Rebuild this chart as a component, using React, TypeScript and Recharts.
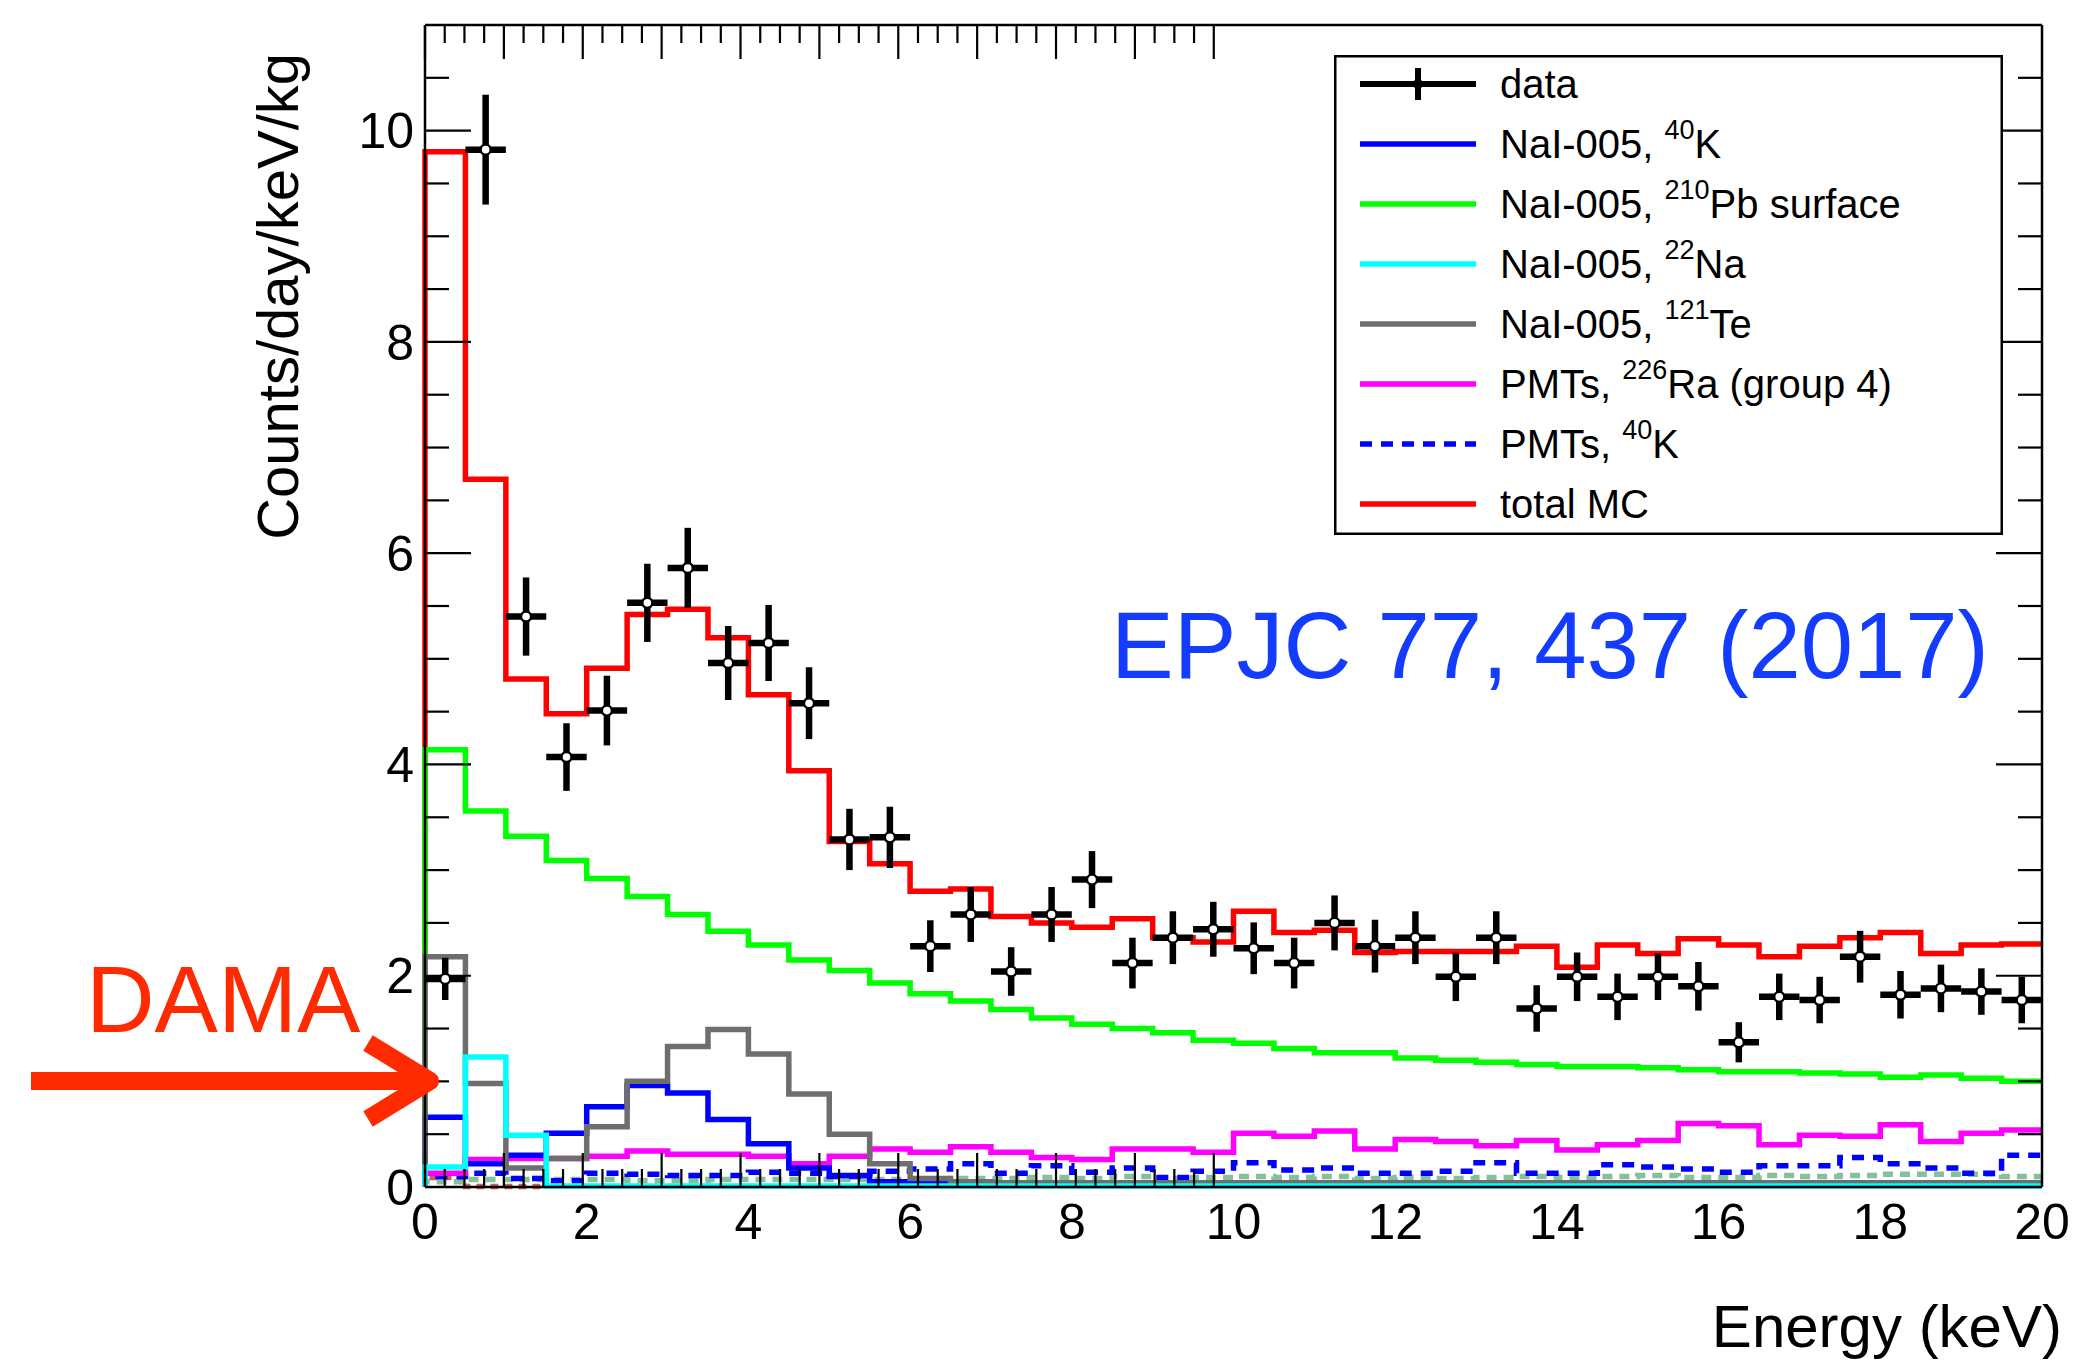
import React from "react";
import { ComposedChart, Line, Scatter, XAxis, YAxis, ErrorBar, Legend, Label } from "recharts";

const FONT = '"Liberation Sans", Arial, Helvetica, sans-serif';

// ---------- data ----------
// lower edges of the 0.5 keV bins
const BIN_EDGES = [0, 0.5, 1, 1.5, 2, 2.5, 3, 3.5, 4, 4.5, 5, 5.5, 6, 6.5, 7, 7.5, 8, 8.5, 9, 9.5,
  10, 10.5, 11, 11.5, 12, 12.5, 13, 13.5, 14, 14.5, 15, 15.5, 16, 16.5, 17, 17.5, 18, 18.5, 19, 19.5];
const X_MAX = 20;

const TOTAL_MC = [9.8, 6.7, 4.81, 4.48, 4.91, 5.42, 5.47, 5.2, 4.66, 3.94, 3.27, 3.06, 2.8, 2.82, 2.56, 2.5, 2.46, 2.54, 2.36, 2.32,
  2.61, 2.41, 2.43, 2.22, 2.23, 2.23, 2.23, 2.28, 2.08, 2.29, 2.21, 2.35, 2.29, 2.18, 2.28, 2.36, 2.41, 2.21, 2.29, 2.3];
const NAI_PB210_SURFACE = [4.14, 3.56, 3.32, 3.09, 2.92, 2.75, 2.58, 2.42, 2.29, 2.15, 2.05, 1.93, 1.83, 1.76, 1.68, 1.6, 1.54, 1.5, 1.46, 1.39,
  1.36, 1.31, 1.27, 1.27, 1.22, 1.2, 1.18, 1.16, 1.14, 1.14, 1.13, 1.11, 1.09, 1.09, 1.08, 1.07, 1.04, 1.06, 1.03, 1.0];
const NAI_NA22 = [0.19, 1.23, 0.49, 0.01, 0.01, 0.01, 0.01, 0.01, 0.01, 0.01, 0.01, 0.01, 0.01, 0.01, 0.01, 0.01, 0.01, 0.01, 0.01, 0.01,
  0.01, 0.01, 0.01, 0.01, 0.01, 0.01, 0.01, 0.01, 0.01, 0.01, 0.01, 0.01, 0.01, 0.01, 0.01, 0.01, 0.01, 0.01, 0.01, 0.01];
const NAI_TE121 = [2.18, 0.98, 0.18, 0.27, 0.57, 1.0, 1.33, 1.49, 1.26, 0.88, 0.5, 0.22, 0.08, 0.05, 0.04, 0.04, 0.04, 0.04, 0.04, 0.04,
  0.04, 0.04, 0.04, 0.04, 0.04, 0.04, 0.04, 0.04, 0.04, 0.04, 0.04, 0.04, 0.04, 0.04, 0.04, 0.04, 0.04, 0.04, 0.04, 0.04];
const NAI_K40 = [0.66, 0.22, 0.3, 0.51, 0.76, 0.96, 0.89, 0.64, 0.41, 0.18, 0.11, 0.05, 0.03, 0.03, 0.03, 0.03, 0.03, 0.03, 0.03, 0.03,
  0.03, 0.03, 0.03, 0.03, 0.03, 0.03, 0.03, 0.03, 0.03, 0.03, 0.03, 0.03, 0.03, 0.03, 0.03, 0.03, 0.03, 0.03, 0.03, 0.03];
const PMT_RA226 = [0.13, 0.26, 0.27, 0.27, 0.29, 0.34, 0.31, 0.31, 0.29, 0.22, 0.29, 0.36, 0.33, 0.38, 0.33, 0.28, 0.26, 0.36, 0.36, 0.33,
  0.51, 0.48, 0.53, 0.36, 0.45, 0.43, 0.39, 0.44, 0.35, 0.4, 0.44, 0.6, 0.58, 0.4, 0.49, 0.48, 0.59, 0.43, 0.51, 0.54];
const PMT_K40 = [0.1, 0.13, 0.08, 0.06, 0.13, 0.12, 0.11, 0.11, 0.14, 0.13, 0.1, 0.15, 0.17, 0.22, 0.13, 0.2, 0.14, 0.18, 0.09, 0.15,
  0.23, 0.16, 0.18, 0.13, 0.13, 0.15, 0.23, 0.13, 0.13, 0.21, 0.19, 0.17, 0.14, 0.2, 0.2, 0.28, 0.22, 0.18, 0.13, 0.3];
// components drawn in the figure but not listed in its legend
const UNLISTED_GREEN = [0.05, 0.07, 0.07, 0.07, 0.07, 0.06, 0.06, 0.07, 0.07, 0.07, 0.07, 0.07, 0.07, 0.08, 0.08, 0.09, 0.08, 0.1, 0.08, 0.09,
  0.1, 0.09, 0.1, 0.08, 0.09, 0.08, 0.09, 0.1, 0.09, 0.1, 0.11, 0.09, 0.09, 0.11, 0.1, 0.11, 0.12, 0.12, 0.12, 0.1];
const UNLISTED_RED: (number | null)[] = [0.09, 0.004, 0.004, 0, null, null, null, null, null, null, null, null, null, null, null, null, null, null, null, null,
  null, null, null, null, null, null, null, null, null, null, null, null, null, null, null, null, null, null, null, null];

const DATA_X = [0.25, 0.75, 1.25, 1.75, 2.25, 2.75, 3.25, 3.75, 4.25, 4.75, 5.25, 5.75, 6.25, 6.75, 7.25, 7.75, 8.25, 8.75, 9.25, 9.75,
  10.25, 10.75, 11.25, 11.75, 12.25, 12.75, 13.25, 13.75, 14.25, 14.75, 15.25, 15.75, 16.25, 16.75, 17.25, 17.75, 18.25, 18.75, 19.25, 19.75];
const DATA_Y = [1.97, 9.82, 5.4, 4.07, 4.51, 5.53, 5.86, 4.96, 5.15, 4.58, 3.29, 3.31, 2.28, 2.58, 2.04, 2.58, 2.91, 2.12, 2.36, 2.44,
  2.26, 2.12, 2.5, 2.28, 2.36, 1.99, 2.36, 1.69, 1.99, 1.8, 1.99, 1.9, 1.37, 1.8, 1.77, 2.18, 1.82, 1.88, 1.85, 1.77];
const DATA_ERR = [0.2, 0.52, 0.37, 0.32, 0.33, 0.37, 0.38, 0.35, 0.36, 0.34, 0.29, 0.29, 0.245, 0.26, 0.23, 0.26, 0.27, 0.24, 0.25, 0.26,
  0.245, 0.24, 0.26, 0.25, 0.25, 0.23, 0.25, 0.22, 0.23, 0.22, 0.22, 0.23, 0.19, 0.22, 0.22, 0.245, 0.225, 0.225, 0.22, 0.22];
const HALF_BIN = 0.25;

const X_TICKS = [0, 2, 4, 6, 8, 10, 12, 14, 16, 18, 20];
const X_MINOR = [0.5, 1, 1.5, 2.5, 3, 3.5, 4.5, 5, 5.5, 6.5, 7, 7.5, 8.5, 9, 9.5, 10.5, 11, 11.5, 12.5, 13, 13.5,
  14.5, 15, 15.5, 16.5, 17, 17.5, 18.5, 19, 19.5];
const Y_TICKS = [0, 2, 4, 6, 8, 10];
const Y_MINOR = [0.5, 1, 1.5, 2.5, 3, 3.5, 4.5, 5, 5.5, 6.5, 7, 7.5, 8.5, 9, 9.5, 10.5];
const X_DOMAIN: [number, number] = [0, 20];
const Y_DOMAIN: [number, number] = [0, 11];

// ---------- series configuration ----------
type Series = { key: string; values: (number | null)[]; color: string; dash?: string };
const SERIES: Series[] = [
  { key: "totalMC", values: TOTAL_MC, color: "#ff0000" },
  { key: "pb210", values: NAI_PB210_SURFACE, color: "#00ff00" },
  { key: "unlistedGreen", values: UNLISTED_GREEN, color: "#84c09c", dash: "10 7" },
  { key: "unlistedRed", values: UNLISTED_RED, color: "#cd5c5c", dash: "8 6" },
  { key: "pmtK40", values: PMT_K40, color: "#0000ff", dash: "12 9" },
  { key: "ra226", values: PMT_RA226, color: "#ff00ff" },
  { key: "k40", values: NAI_K40, color: "#0000ff" },
  { key: "te121", values: NAI_TE121, color: "#6e6e6e" },
  { key: "na22", values: NAI_NA22, color: "#00ffff" },
];

const lastIdx = BIN_EDGES.length - 1;
const histRows: Record<string, number | null>[] = [
  { x: BIN_EDGES[0], ...Object.fromEntries(SERIES.map((s) => [s.key, s.values[0] == null ? null : 0])) },
  ...BIN_EDGES.map((edge, i) => ({ x: edge, ...Object.fromEntries(SERIES.map((s) => [s.key, s.values[i]])) })),
  { x: X_MAX, ...Object.fromEntries(SERIES.map((s) => [s.key, s.values[lastIdx]])) },
];

const points = DATA_X.map((x, i) => ({ x, y: DATA_Y[i], ex: HALF_BIN, ey: DATA_ERR[i] }));

// ---------- legend ----------
type LegendItem = { kind: "data" | "line"; pre: string; sup?: string; post?: string; color?: string; dash?: string };
const LEGEND_ITEMS: LegendItem[] = [
  { kind: "data", pre: "data" },
  { kind: "line", pre: "NaI-005, ", sup: "40", post: "K", color: "#0000ff" },
  { kind: "line", pre: "NaI-005, ", sup: "210", post: "Pb surface", color: "#00ff00" },
  { kind: "line", pre: "NaI-005, ", sup: "22", post: "Na", color: "#00ffff" },
  { kind: "line", pre: "NaI-005, ", sup: "121", post: "Te", color: "#6e6e6e" },
  { kind: "line", pre: "PMTs, ", sup: "226", post: "Ra (group 4)", color: "#ff00ff" },
  { kind: "line", pre: "PMTs, ", sup: "40", post: "K", color: "#0000ff", dash: "12 9" },
  { kind: "line", pre: "total MC", color: "#ff0000" },
];

const LEG_W = 669;
const LEG_H = 480;
const LINE_W = 5.5;

function LegendBox() {
  return (
    <svg width={LEG_W} height={LEG_H} style={{ display: "block" }}>
      <rect x={1.25} y={1.25} width={LEG_W - 2.5} height={LEG_H - 2.5} fill="#fff" stroke="#000" strokeWidth={2.5} />
      {LEGEND_ITEMS.map((it, i) => {
        const cy = 29 + 60 * i;
        return (
          <g key={i}>
            {it.kind === "data" ? (
              <g>
                <line x1={26} x2={142} y1={cy} y2={cy} stroke="#000" strokeWidth={6} />
                <line x1={84} x2={84} y1={cy - 16} y2={cy + 16} stroke="#000" strokeWidth={6} />
                <circle cx={84} cy={cy} r={5} fill="#000" />
              </g>
            ) : (
              <line x1={26} x2={142} y1={cy} y2={cy} stroke={it.color} strokeWidth={LINE_W} strokeDasharray={it.dash} />
            )}
            <text x={166} y={cy + 14} fontSize={40} fontFamily={FONT} fill="#000">
              <tspan>{it.pre}</tspan>
              {it.sup ? (
                <tspan fontSize={27} dy={-19}>{it.sup}</tspan>
              ) : null}
              {it.post ? <tspan dy={it.sup ? 19 : 0}>{it.post}</tspan> : null}
            </text>
          </g>
        );
      })}
    </svg>
  );
}

// ---------- marks ----------
const OpenCircle = (p: any) => (
  <circle cx={p.cx} cy={p.cy} r={5} fill="#fff" stroke="#000" strokeWidth={2.4} />
);

const tickFont = { fontSize: 50, fill: "#000", fontFamily: FONT };
const frame = { stroke: "#000", strokeWidth: 2.5 };
const tickStroke = { stroke: "#000", strokeWidth: 2.2 };
const noLabel = () => "";

const YTitle = (props: any) => {
  const vb = props.viewBox || { x: 295, y: 25 };
  const x = vb.x + 3;
  const y = vb.y + 28;
  return (
    <text x={x} y={y} transform={`rotate(-90, ${x}, ${y})`} textAnchor="end" fontSize={58} fontFamily={FONT} fill="#000">
      Counts/day/keV/kg
    </text>
  );
};

const XTitle = (props: any) => {
  const vb = props.viewBox || { x: 425, y: 1187, width: 1617 };
  return (
    <text x={vb.x + vb.width + 20} y={vb.y + 160} textAnchor="end" fontSize={60} fontFamily={FONT} fill="#000">
      Energy (keV)
    </text>
  );
};

export default function App() {
  return (
    <div style={{ position: "absolute", left: 0, top: 0, width: 2075, height: 1361, background: "#fff" }}>
      <ComposedChart
        width={2075}
        height={1361}
        data={histRows}
        margin={{ top: 25, right: 33, bottom: 104, left: 295 }}
      >
        <XAxis
          xAxisId="x"
          dataKey="x"
          type="number"
          domain={X_DOMAIN}
          ticks={X_TICKS}
          interval={0}
          tickLine={false}
          tickSize={0}
          tickMargin={16}
          height={70}
          axisLine={frame}
          tick={tickFont}
        >
          <Label content={XTitle} />
        </XAxis>
        <XAxis xAxisId="xMajB" type="number" domain={X_DOMAIN} allowDataOverflow ticks={X_TICKS} interval={0}
          orientation="bottom" mirror height={1} tickFormatter={noLabel} tickSize={34} tickLine={tickStroke} axisLine={false} />
        <XAxis xAxisId="xMinB" type="number" domain={X_DOMAIN} allowDataOverflow ticks={X_MINOR} interval={0}
          orientation="bottom" mirror height={1} tickFormatter={noLabel} tickSize={17} tickLine={tickStroke} axisLine={false} />
        <XAxis xAxisId="xMajT" type="number" domain={X_DOMAIN} allowDataOverflow ticks={X_TICKS} interval={0}
          orientation="top" mirror height={1} tickFormatter={noLabel} tickSize={34} tickLine={tickStroke} axisLine={frame} />
        <XAxis xAxisId="xMinT" type="number" domain={X_DOMAIN} allowDataOverflow ticks={X_MINOR} interval={0}
          orientation="top" mirror height={1} tickFormatter={noLabel} tickSize={17} tickLine={tickStroke} axisLine={false} />

        <YAxis
          yAxisId="y"
          type="number"
          domain={Y_DOMAIN}
          ticks={Y_TICKS}
          interval={0}
          tickLine={false}
          tickSize={0}
          tickMargin={11}
          width={130}
          axisLine={frame}
          tick={tickFont}
        >
          <Label content={YTitle} />
        </YAxis>
        <YAxis yAxisId="yMajL" type="number" domain={Y_DOMAIN} allowDataOverflow ticks={Y_TICKS} interval={0}
          orientation="left" mirror width={1} tickFormatter={noLabel} tickSize={46} tickLine={tickStroke} axisLine={false} />
        <YAxis yAxisId="yMinL" type="number" domain={Y_DOMAIN} allowDataOverflow ticks={Y_MINOR} interval={0}
          orientation="left" mirror width={1} tickFormatter={noLabel} tickSize={23} tickLine={tickStroke} axisLine={false} />
        <YAxis yAxisId="yMajR" type="number" domain={Y_DOMAIN} allowDataOverflow ticks={Y_TICKS} interval={0}
          orientation="right" mirror width={1} tickFormatter={noLabel} tickSize={46} tickLine={tickStroke} axisLine={frame} />
        <YAxis yAxisId="yMinR" type="number" domain={Y_DOMAIN} allowDataOverflow ticks={Y_MINOR} interval={0}
          orientation="right" mirror width={1} tickFormatter={noLabel} tickSize={23} tickLine={tickStroke} axisLine={false} />

        {SERIES.map((s) => (
          <Line
            key={s.key}
            xAxisId="x"
            yAxisId="y"
            dataKey={s.key}
            type="stepAfter"
            stroke={s.color}
            strokeWidth={LINE_W}
            strokeDasharray={s.dash}
            dot={false}
            activeDot={false}
            isAnimationActive={false}
            strokeLinecap="butt"
            strokeLinejoin="miter"
          />
        ))}

        <Scatter
          xAxisId="x"
          yAxisId="y"
          data={points}
          dataKey="y"
          shape={OpenCircle}
          isAnimationActive={false}
        >
          <ErrorBar dataKey="ey" direction="y" width={0} stroke="#000" strokeWidth={6.5} isAnimationActive={false} />
          <ErrorBar dataKey="ex" direction="x" width={0} stroke="#000" strokeWidth={6.5} isAnimationActive={false} />
        </Scatter>

        <Legend
          layout="horizontal"
          verticalAlign="middle"
          align="center"
          content={() => <LegendBox />}
          wrapperStyle={{ position: "absolute", left: 1334, top: 55, width: LEG_W, height: LEG_H, margin: 0, padding: 0, lineHeight: 0 }}
        />
      </ComposedChart>

      <svg width={2075} height={1361} style={{ position: "absolute", left: 0, top: 0, pointerEvents: "none" }}>
        <text x={1111} y={678} fontSize={94} fontFamily={FONT} fill="#143cff">
          EPJC 77, 437 (2017)
        </text>
        <text x={86} y={1032} fontSize={95} fontFamily={FONT} fill="#ff2a00">
          DAMA
        </text>
        <line x1={31} x2={424} y1={1081} y2={1081} stroke="#ff2a00" strokeWidth={18} />
        <polyline points="368,1043 430,1081 368,1119" fill="none" stroke="#ff2a00" strokeWidth={18} strokeLinejoin="round" />
      </svg>
    </div>
  );
}
